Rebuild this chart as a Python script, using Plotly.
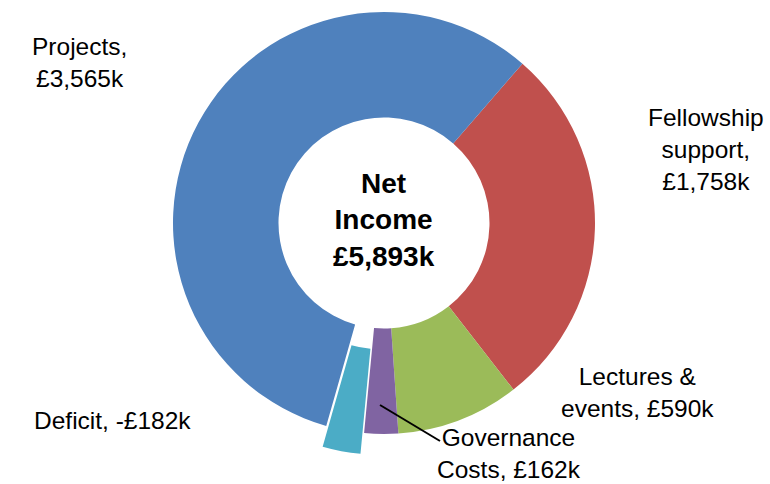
import plotly.graph_objects as go

# Data
labels = ["Fellowship support", "Lectures & events", "Governance Costs", "Deficit", "Projects"]
values = [1758, 590, 162, 182, 3565]
colors = ["#C0504D", "#9BBB59", "#8064A2", "#4BACC6", "#4F81BD"]
label_texts = ["Fellowship<br>support,<br>£1,758k", "Lectures &<br>events, £590k",
               "Governance<br>Costs, £162k", "Deficit, -£182k", "Projects,<br>£3,565k"]
center_text = "Net<br>Income<br>£5,893k"

W, H = 770, 484
transparent = "rgba(0,0,0,0)"

def px_domain(cx, cy, r):
    return dict(x=[(cx - r) / W, (cx + r) / W], y=[1 - (cy + r) / H, 1 - (cy - r) / H])

# main ring (deficit hidden here, drawn separately as an exploded slice)
main_colors = [c if l != "Deficit" else transparent for l, c in zip(labels, colors)]
pull_colors = [c if l == "Deficit" else transparent for l, c in zip(labels, colors)]

fig = go.Figure()
fig.add_trace(go.Pie(
    labels=labels, values=values, sort=False, direction="clockwise", rotation=41,
    hole=0.5, marker=dict(colors=main_colors, line=dict(width=0)),
    textinfo="none", hoverinfo="skip", showlegend=False,
    domain=px_domain(384, 223, 211),
))
fig.add_trace(go.Pie(
    labels=labels, values=values, sort=False, direction="clockwise", rotation=41,
    hole=0.5, marker=dict(colors=pull_colors, line=dict(width=0)),
    textinfo="none", hoverinfo="skip", showlegend=False,
    domain=px_domain(380.4, 243.7, 211),
))

lab_font = dict(family="Liberation Sans, Arial, sans-serif", size=24.5, color="#000000")
positions = [(706, 149), (637, 392), (509, 453), (112, 420), (79, 62)]
anns = []
for t, (x, y) in zip(label_texts, positions):
    anns.append(dict(x=x / W, y=1 - y / H, xref="paper", yref="paper", text=t,
                     showarrow=False, font=lab_font, align="center",
                     xanchor="center", yanchor="middle"))
anns.append(dict(x=384 / W, y=1 - 220 / H, xref="paper", yref="paper", text="<b>" + center_text + "</b>",
                 showarrow=False, align="center", xanchor="center", yanchor="middle",
                 font=dict(family="Liberation Sans, Arial, sans-serif", size=28, color="#000000")))

fig.update_layout(
    width=W, height=H, autosize=False,
    margin=dict(l=0, r=0, t=0, b=0),
    paper_bgcolor="white", plot_bgcolor="white",
    annotations=anns,
    shapes=[dict(type="line", xref="paper", yref="paper",
                 x0=380 / W, y0=1 - 405 / H, x1=440 / W, y1=1 - 441 / H,
                 line=dict(color="black", width=2))],
)
fig.write_html("out.html")
